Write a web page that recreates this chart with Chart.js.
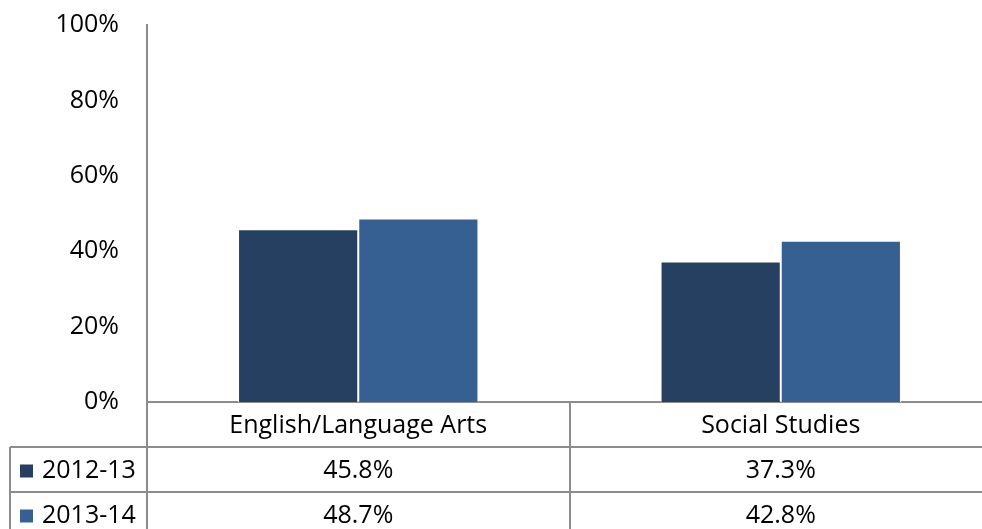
<!DOCTYPE html>
<html lang="en">
<head>
  <meta charset="UTF-8">
  <title>ELA and Social Studies</title>
  <script src="https://cdn.jsdelivr.net/npm/chart.js"></script>
  <style>
    html, body { margin: 0; padding: 0; background: #fff; overflow: hidden; }
    .wrap { position: relative; width: 992px; height: 529px; }
  </style>
</head>
<body>
  <div class="wrap"><canvas id="myChart"></canvas></div>

<script>
  // data
  const subjects = ['English/Language Arts', 'Social Studies'];
  const years = ['2012-13', '2013-14'];
  const values1213 = [45.8, 37.3];
  const values1314 = [48.7, 42.8];
  const yTicks = [0, 20, 40, 60, 80, 100];

  const colors = ['#254061', '#376092'];
  const lineColor = '#8c8c8c';
  const fontFamily = '"Open Sans", Lato, sans-serif';
  const fontSize = 25;

  // data table under the chart (category row + one row per series)
  const dataTable = {
    id: 'dataTable',
    afterDraw(chart) {
      const { ctx, chartArea, scales } = chart;
      const x = scales.x;
      const h = chart.height;
      const rowH = 45;
      const left = 10;
      const right = chart.width;
      const top = chartArea.bottom;
      const half = (x.getPixelForValue(1) - x.getPixelForValue(0)) / 2;

      ctx.save();
      ctx.strokeStyle = lineColor;
      ctx.lineWidth = 2;
      ctx.beginPath();
      // continue y axis line down through the table
      ctx.moveTo(chartArea.left, top);
      ctx.lineTo(chartArea.left, h);
      // row lines
      ctx.moveTo(left, top + rowH);
      ctx.lineTo(right, top + rowH);
      ctx.moveTo(left, top + rowH * 2);
      ctx.lineTo(right, top + rowH * 2);
      ctx.moveTo(left, top + rowH);
      ctx.lineTo(left, h);
      // category dividers
      for (let i = 0; i < subjects.length - 1; i++) {
        const bx = Math.round(x.getPixelForValue(i) + half);
        ctx.moveTo(bx, top);
        ctx.lineTo(bx, h);
      }
      ctx.stroke();

      ctx.font = fontSize + 'px ' + fontFamily;
      ctx.fillStyle = '#000';
      ctx.textAlign = 'center';
      ctx.textBaseline = 'middle';
      subjects.forEach((s, i) => {
        ctx.fillText(s, x.getPixelForValue(i), top + rowH / 2 + 1);
      });

      chart.data.datasets.forEach((ds, r) => {
        const cy = top + rowH * (r + 1) + rowH / 2 + 1;
        ctx.fillStyle = ds.backgroundColor;
        ctx.fillRect(20, cy - 6, 13, 13);
        ctx.fillStyle = '#000';
        ctx.textAlign = 'left';
        ctx.fillText(ds.label, 42, cy);
        ctx.textAlign = 'center';
        ds.data.forEach((v, i) => {
          ctx.fillText(v.toFixed(1) + '%', x.getPixelForValue(i), cy);
        });
      });
      ctx.restore();
    }
  };

  new Chart(document.getElementById('myChart'), {
    type: 'bar',
    data: {
      labels: subjects,
      datasets: [
        { label: years[0], data: values1213, backgroundColor: colors[0], borderColor: '#fff', borderWidth: 1 },
        { label: years[1], data: values1314, backgroundColor: colors[1], borderColor: '#fff', borderWidth: 1 }
      ]
    },
    options: {
      responsive: true,
      maintainAspectRatio: false,
      animation: false,
      devicePixelRatio: 1,
      layout: { padding: { top: 25, bottom: 127, left: 0, right: 0 } },
      plugins: { legend: { display: false }, tooltip: { enabled: false } },
      datasets: { bar: { categoryPercentage: 0.569, barPercentage: 1 } },
      scales: {
        x: {
          ticks: { display: false },
          grid: { display: false },
          border: { display: true, color: lineColor, width: 2 },
          afterFit: s => { s.height = 0; }
        },
        y: {
          min: 0,
          max: 100,
          afterFit: s => { s.width = 147; s.paddingTop = 0; s.paddingBottom = 0; },
          afterBuildTicks: s => { s.ticks = yTicks.map(v => ({ value: v })); },
          ticks: {
            padding: 28,
            color: '#000',
            font: { family: fontFamily, size: fontSize },
            callback: v => v + '%'
          },
          grid: { display: false, drawTicks: false },
          border: { display: true, color: lineColor, width: 2 }
        }
      }
    },
    plugins: [dataTable]
  });
</script>
</body>
</html>
